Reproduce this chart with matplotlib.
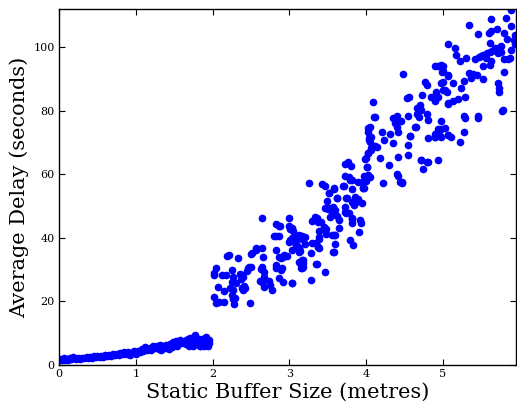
import numpy as np
import matplotlib
matplotlib.use("Agg")
import matplotlib.pyplot as plt

# low buffer sizes: delay grows slowly (x in metres, y in seconds)
low_x = [0.00, 0.02, 0.04, 0.06, 0.08, 0.10, 0.12, 0.14, 0.16, 0.18, 0.20, 0.22,
         0.25, 0.28, 0.30, 0.33, 0.36, 0.38, 0.40, 0.43, 0.45, 0.48, 0.50, 0.53,
         0.55, 0.58, 0.60, 0.63, 0.65, 0.68, 0.70, 0.73, 0.75, 0.78, 0.80, 0.83,
         0.85, 0.88, 0.90, 0.92, 0.95, 0.98, 1.00, 1.03, 1.05, 1.08, 1.10, 1.12,
         1.15, 1.18, 1.20, 1.23, 1.25, 1.28, 1.30, 1.32, 1.35, 1.38, 1.40, 1.42,
         1.45, 1.47, 1.48, 1.50, 1.52, 1.55, 1.57, 1.60, 1.63, 1.66, 1.68, 1.70,
         1.72, 1.73, 1.75, 1.76, 1.77, 1.78, 1.80, 1.82, 1.83, 1.85, 1.87, 1.88,
         1.90, 1.92, 1.93, 1.95, 1.96,
         1.33, 1.36, 1.43, 1.49, 1.54, 1.58, 1.65, 1.69, 1.71, 1.74, 1.79, 1.81,
         1.84, 1.86, 1.89, 1.91, 1.94]
low_y = [1.5, 1.8, 1.4, 2.0, 1.6, 1.9, 1.5, 2.1, 1.7, 2.4, 2.0, 1.8,
         2.2, 1.9, 2.3, 2.1, 2.5, 2.2, 2.6, 2.3, 2.7, 2.4, 2.8, 2.5,
         2.9, 2.6, 3.0, 2.7, 3.1, 2.9, 3.3, 3.0, 3.5, 3.1, 3.6, 3.3,
         3.9, 3.5, 4.0, 3.2, 3.8, 4.2, 3.5, 4.5, 3.9, 5.0, 4.3, 5.5,
         4.6, 5.2, 4.8, 5.8, 5.2, 6.0, 5.0, 6.3, 5.6, 5.2, 6.2, 5.8,
         6.6, 5.5, 7.2, 6.4, 7.6, 6.9, 7.8, 6.8, 7.3, 6.5, 8.0, 7.0,
         6.2, 8.6, 7.5, 6.8, 9.5, 7.2, 6.5, 8.2, 6.0, 7.6, 7.0, 6.4,
         8.4, 7.2, 6.6, 7.8, 7.0,
         4.6, 6.0, 5.0, 6.0, 5.8, 7.2, 7.8, 5.8, 8.4, 6.0, 8.6, 7.4,
         5.8, 8.0, 6.0, 8.8, 5.9]

# 2 - 3 metres
mid_x = [2.02, 2.02, 2.05, 2.07, 2.02, 2.05, 2.08, 2.15, 2.12, 2.17, 2.19, 2.22,
         2.25, 2.27, 2.25, 2.23, 2.27, 2.15, 2.25, 2.27, 2.29, 2.28, 2.33, 2.31,
         2.36, 2.38, 2.40, 2.37, 2.41, 2.38, 2.40, 2.42, 2.49, 2.46, 2.48, 2.50,
         2.51, 2.57, 2.65, 2.65, 2.66, 2.65, 2.63, 2.67, 2.62, 2.64, 2.67, 2.73,
         2.75, 2.67, 2.77, 2.82, 2.83, 2.82, 2.80, 2.83, 2.87, 2.83, 2.86, 2.88,
         2.90, 2.89, 2.92, 2.93, 2.86, 2.92, 2.45, 2.50, 2.89, 2.97, 2.86, 2.56]
mid_y = [28.9, 28.4, 30.4, 24.6, 21.2, 19.4, 19.9, 19.7, 28.3, 28.3, 34.1, 34.6,
         29.9, 27.8, 26.2, 24.1, 23.6, 23.3, 22.0, 20.6, 20.9, 19.1, 33.5, 25.7,
         28.5, 28.3, 27.8, 27.0, 24.9, 24.1, 23.6, 24.2, 19.4, 30.4, 30.9, 30.9,
         35.1, 36.7, 36.7, 46.3, 34.0, 30.9, 30.2, 29.3, 26.5, 26.0, 27.5, 26.4,
         25.2, 24.6, 23.6, 31.4, 30.6, 36.2, 40.4, 40.4, 40.4, 44.3, 43.8, 43.8,
         30.4, 33.5, 34.0, 34.7, 27.3, 26.2, 29.4, 34.9, 29.9, 34.4, 33.8, 36.2]

# 3 - 4 metres
up_x = [3.03, 2.99, 3.00, 3.01, 3.01, 3.04, 3.07, 3.09, 3.12, 3.16, 3.13, 3.10,
        3.16, 3.12, 3.18, 3.25, 3.43, 3.46, 3.58, 3.52, 3.49, 3.62, 3.72, 3.76,
        3.80, 3.73, 3.79, 3.70, 3.81, 3.89, 3.95, 3.96, 3.97, 4.02, 4.01, 4.00,
        4.03, 4.06, 4.05, 3.75, 3.85, 3.83, 3.87, 3.94, 3.73, 3.77, 3.74, 3.81,
        3.82, 3.93, 3.91, 3.79, 3.83, 3.46, 3.50, 3.55, 3.53, 3.64, 3.29, 3.36,
        3.41, 3.45, 3.48, 3.64, 3.55, 3.59, 3.59, 3.57, 3.48, 3.38, 3.39, 3.30,
        3.38, 3.37, 3.39, 3.28, 3.20, 3.14, 3.10, 3.05, 3.02, 3.00, 3.10, 3.12,
        3.14, 3.20, 3.04, 3.03, 3.05, 3.18, 3.14, 3.16, 3.36, 3.28, 3.47, 3.03,
        3.92, 3.13, 3.16, 3.09, 3.12, 3.18, 3.15, 3.35, 3.37, 3.34, 3.37, 3.35,
        3.45, 3.58, 3.58, 3.52, 3.57, 3.60, 3.62, 3.51, 3.58, 3.62, 3.71, 3.74,
        3.72, 3.78, 3.81, 3.82, 3.84, 3.89, 3.81, 3.96, 4.00, 3.99, 4.04, 4.07]
up_y = [25.7, 46.3, 43.8, 42.8, 39.3, 39.8, 38.6, 37.6, 36.7, 40.4, 40.7, 40.2,
        33.0, 32.5, 30.9, 57.1, 56.8, 56.4, 55.6, 54.0, 51.7, 52.6, 63.2, 63.9,
        62.6, 59.4, 58.2, 56.3, 55.3, 57.5, 57.5, 55.6, 59.4, 59.7, 62.4, 65.0,
        66.6, 68.1, 70.2, 52.4, 52.9, 51.4, 51.4, 51.0, 49.8, 47.9, 47.9, 45.8,
        44.5, 44.5, 41.9, 39.3, 37.7, 49.3, 48.9, 47.7, 46.4, 45.6, 45.3, 46.3,
        45.1, 43.3, 42.8, 43.0, 40.9, 40.9, 38.1, 35.4, 41.2, 42.2, 40.3, 38.5,
        39.5, 37.0, 36.7, 35.3, 40.3, 40.1, 40.1, 39.3, 39.3, 38.7, 37.4, 36.7,
        35.9, 38.0, 36.2, 43.0, 42.0, 33.0, 32.0, 30.4, 31.8, 26.7, 29.3, 25.7,
        45.6, 40.9, 39.6, 37.9, 35.6, 32.0, 30.4, 38.3, 37.0, 46.4, 45.1, 31.7,
        43.0, 40.9, 35.4, 49.3, 49.8, 48.7, 47.0, 54.0, 55.3, 52.4, 56.4, 52.6,
        48.0, 59.2, 58.2, 51.4, 50.3, 52.1, 46.3, 55.6, 59.2, 64.7, 71.3, 68.6]

# 4 - 5 metres
hi_x = [4.48, 4.90, 4.93, 5.00, 4.99, 5.06, 4.77, 4.79, 4.98, 5.00, 4.53, 4.56,
        4.73, 4.84, 4.91, 4.93, 4.90, 5.07, 4.09, 4.66, 4.70, 4.72, 4.79, 4.66,
        4.69, 4.81, 4.98, 4.11, 4.35, 4.40, 4.41, 4.45, 4.37, 4.55, 4.40, 4.41,
        4.31, 4.21, 4.23, 4.35, 4.57, 4.54, 4.64, 4.81, 4.90, 4.94, 4.98, 5.03,
        5.06, 4.96, 4.72, 4.79, 4.74, 4.94, 4.54, 4.41, 4.30, 4.18, 4.22, 4.40,
        4.42, 4.46, 4.05, 4.01, 4.00, 3.97, 4.01, 4.03, 4.04, 4.06, 4.03, 4.11,
        4.14, 4.06, 4.05, 4.44, 4.47, 4.10, 4.89, 4.89, 4.98, 5.07, 5.11, 5.22,
        5.27, 4.71, 4.80, 4.65, 4.57, 4.02]
hi_y = [91.5, 94.0, 94.0, 94.0, 92.2, 90.9, 89.1, 88.1, 88.8, 86.5, 84.1, 84.3,
        84.9, 84.4, 86.0, 84.4, 83.1, 82.3, 82.8, 80.9, 81.9, 80.2, 79.1, 79.1,
        77.9, 77.0, 76.7, 78.1, 77.6, 78.3, 76.9, 76.7, 76.0, 78.3, 74.9, 73.3,
        72.6, 73.4, 70.8, 69.9, 72.0, 69.2, 74.9, 71.3, 71.8, 74.1, 74.2, 74.4,
        72.3, 71.9, 64.5, 63.9, 61.5, 64.5, 66.0, 65.3, 62.9, 65.2, 57.1, 60.0,
        59.4, 57.6, 59.2, 58.9, 57.8, 55.6, 62.4, 66.6, 70.8, 71.6, 74.4, 68.9,
        68.7, 67.5, 75.0, 57.7, 57.1, 78.1, 72.6, 71.8, 71.8, 72.3, 71.8, 70.1,
        73.2, 64.5, 63.9, 74.9, 72.0, 73.4]

# 5 - 6 metres
top_x = [5.34, 5.63, 5.82, 5.88, 5.89, 5.45, 5.60, 5.62, 5.70, 5.79, 5.83, 5.92,
         5.06, 5.15, 5.17, 5.30, 5.22, 5.42, 5.47, 5.50, 5.52, 5.57, 5.61, 5.64,
         5.68, 5.71, 5.74, 5.76, 5.75, 5.61, 5.56, 5.52, 5.61, 5.63, 5.79, 5.87,
         5.88, 5.79, 5.94, 4.98, 5.00, 5.07, 5.34, 5.36, 5.39, 5.44, 5.52, 5.27,
         5.24, 5.13, 5.00, 5.03, 5.05, 5.19, 5.29, 5.13, 5.07, 5.72, 5.73, 5.78,
         5.27, 5.45, 5.28, 5.45, 5.77, 5.94, 5.85, 5.73]
top_y = [107.0, 108.9, 109.3, 106.5, 111.7, 104.2, 104.4, 105.0, 105.8, 104.4, 102.5, 102.3,
         100.9, 99.7, 97.6, 96.7, 95.7, 96.3, 96.9, 97.2, 97.6, 98.0, 98.6, 98.9,
         99.7, 98.2, 99.9, 100.5, 98.5, 101.3, 96.5, 94.2, 94.4, 95.5, 96.3, 96.5,
         99.2, 92.1, 103.8, 94.4, 92.5, 91.3, 91.8, 90.3, 91.5, 91.2, 90.0, 89.4,
         87.1, 88.7, 89.0, 86.6, 86.0, 83.7, 84.2, 82.9, 82.1, 88.7, 87.1, 80.3,
         78.2, 78.2, 77.6, 77.6, 80.0, 101.0, 96.4, 86.0]

all_x = low_x + mid_x + up_x + hi_x + top_x
all_y = low_y + mid_y + up_y + hi_y + top_y

plt.rcParams['font.family'] = 'DejaVu Serif'

fig = plt.figure(figsize=(5.17, 4.09), dpi=100)
ax = fig.add_axes([0.114, 0.108, 0.884, 0.870])
ax.plot(all_x, all_y, 'o', color='b', mec='b', ms=4.5)

ax.set_xlim(0, 5.95)
ax.set_ylim(0, 112)
ax.set_xticks([0, 1, 2, 3, 4, 5])
ax.set_yticks([0, 20, 40, 60, 80, 100])
ax.tick_params(direction='in', top=True, right=True, labelsize=8, length=4, pad=3)
for s in ax.spines.values():
    s.set_linewidth(1.0)

ax.set_xlabel('Static Buffer Size (metres)', fontsize=15, labelpad=3)
ax.set_ylabel('Average Delay (seconds)', fontsize=15, labelpad=3)

fig.savefig('out.png', dpi=100)
